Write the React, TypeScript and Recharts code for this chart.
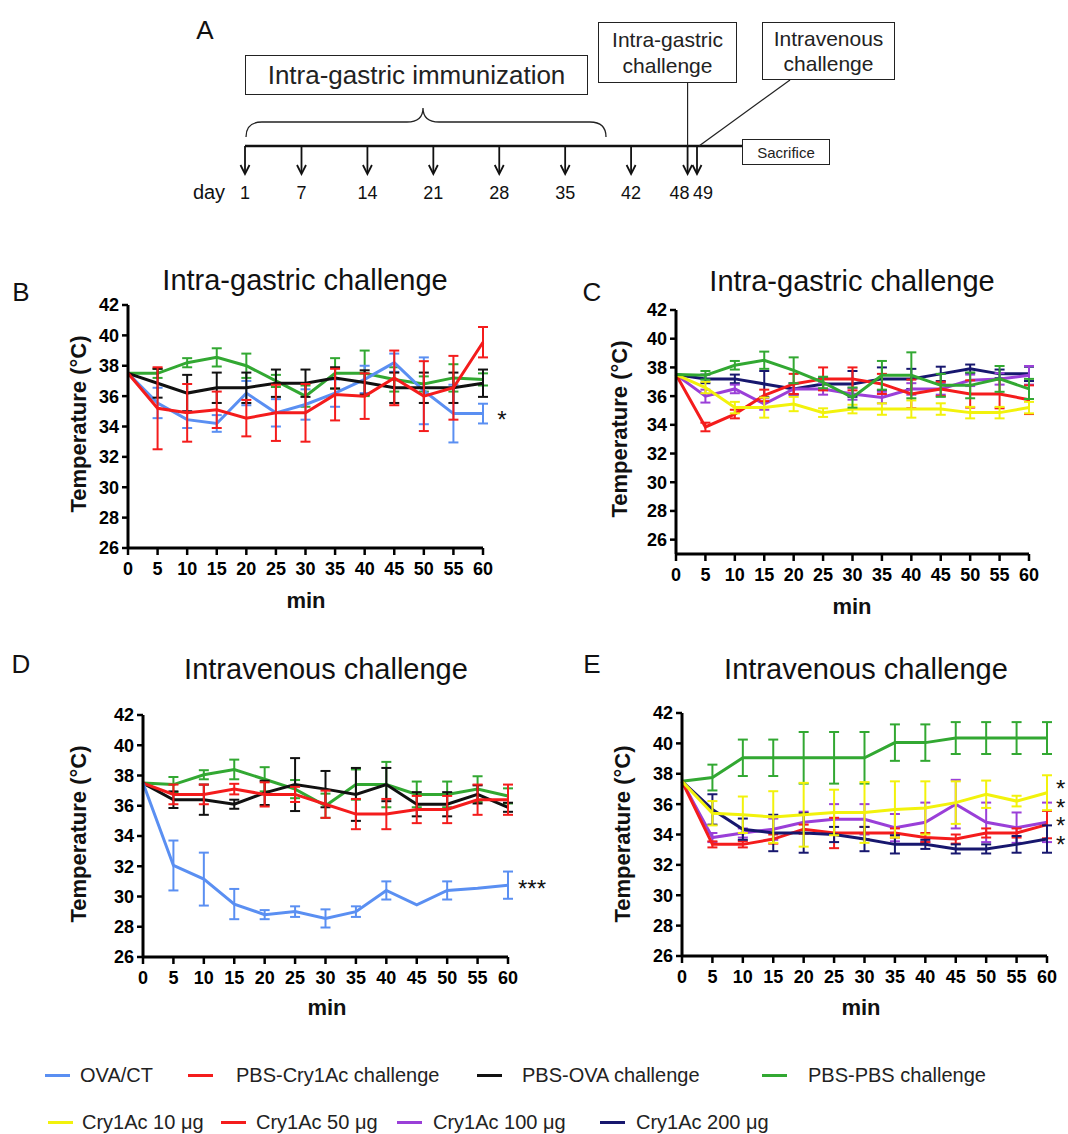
import React from 'react';
import { LineChart, Line, XAxis, YAxis, ErrorBar, ComposedChart, Scatter } from 'recharts';

const FONT = '"Liberation Sans", Arial, Helvetica, sans-serif';

// time points (min) and temperature ticks
const minutes = [0, 5, 10, 15, 20, 25, 30, 35, 40, 45, 50, 55, 60];
const tempTicks = [26, 28, 30, 32, 34, 36, 38, 40, 42];

// schedule days for panel A
const days = [1, 7, 14, 21, 28, 35, 42, 48, 49];

// Panel B: intra-gastric challenge, OVA / PBS groups
const bOva = [37.5, 35.55, 34.45, 34.2, 36.2, 34.9, 35.45, 36.2, 37.1, 38.2, 36.35, 34.85, 34.85];
const bOvaErr = [null, 1.0, 0.55, 0.55, 0.8, 0.9, 1.0, 0.9, 0.9, 0.6, 2.2, 1.9, 0.65];
const bCry = [37.5, 35.2, 34.9, 35.1, 34.55, 34.9, 34.9, 36.1, 36.0, 37.2, 36.0, 36.55, 39.55];
const bCryErr = [null, 2.7, 1.9, 1.2, 1.2, 1.85, 1.9, 1.7, 1.5, 1.8, 2.3, 2.1, 1.0];
const bPbsOva = [37.5, 36.85, 36.2, 36.55, 36.55, 36.85, 36.85, 37.2, 36.9, 36.55, 36.55, 36.55, 36.85];
const bPbsOvaErr = [null, 0.95, 1.2, 1.0, 1.0, 0.9, 0.9, 0.7, 0.8, 1.0, 1.0, 1.0, 0.9];
const bPbs = [37.5, 37.5, 38.2, 38.55, 38.0, 37.0, 36.0, 37.5, 37.5, 37.1, 36.8, 37.2, 37.1];
const bPbsErr = [null, 0.3, 0.3, 0.6, 0.8, 0.4, 0.7, 1.0, 1.5, 0.8, 0.5, 0.9, 0.4];

// Panel C: intra-gastric challenge, Cry1Ac doses
const c200 = [37.5, 37.2, 37.2, 36.85, 36.5, 36.85, 36.85, 37.2, 37.2, 37.55, 37.9, 37.55, 37.55];
const c200Err = [null, 0.3, 0.3, 0.9, 0.4, 0.4, 0.9, 0.8, 0.7, 0.5, 0.3, 0.3, 0.5];
const c100 = [37.5, 36.0, 36.5, 35.45, 36.5, 36.5, 36.15, 35.9, 36.5, 36.5, 37.1, 37.2, 37.45];
const c100Err = [null, 0.45, 0.3, 0.4, 0.4, 0.4, 0.4, 0.4, 0.4, 0.4, 0.4, 0.4, 0.65];
const c50 = [37.5, 33.85, 34.75, 36.05, 36.85, 37.2, 37.2, 36.85, 36.15, 36.5, 36.15, 36.15, 35.75];
const c50Err = [null, 0.3, 0.3, 0.4, 0.7, 0.8, 0.8, 0.7, 1.0, 0.5, 0.95, 1.0, 1.0];
const c10 = [37.5, 36.6, 35.2, 35.2, 35.45, 34.85, 35.1, 35.1, 35.1, 35.1, 34.85, 34.85, 35.2];
const c10Err = [null, 0.4, 0.4, 0.7, 0.5, 0.3, 0.3, 0.4, 0.6, 0.4, 0.4, 0.4, 0.4];
const cPbs = [37.5, 37.45, 38.15, 38.5, 37.8, 36.95, 35.9, 37.45, 37.45, 36.75, 36.75, 37.2, 36.5];
const cPbsErr = [null, 0.3, 0.3, 0.6, 0.9, 0.4, 0.7, 1.0, 1.6, 0.8, 0.9, 0.9, 0.7];

// Panel D: intravenous challenge, OVA / PBS groups
const dPbs = [37.5, 37.4, 38.05, 38.4, 37.75, 37.1, 36.0, 37.4, 37.4, 36.75, 36.75, 37.1, 36.65];
const dPbsErr = [null, 0.5, 0.3, 0.65, 0.8, 0.6, 0.8, 1.0, 1.5, 0.85, 0.85, 0.85, 0.5];
const dPbsOva = [37.5, 36.4, 36.4, 36.1, 36.85, 37.4, 37.1, 36.75, 37.4, 36.1, 36.1, 36.75, 35.9];
const dPbsOvaErr = [null, 0.55, 1.0, 0.3, 0.8, 1.75, 1.2, 1.75, 1.1, 0.8, 0.8, 0.6, 0.3];
const dCry = [37.5, 36.75, 36.75, 37.1, 36.75, 36.75, 36.1, 35.45, 35.45, 35.75, 35.75, 36.4, 36.4];
const dCryErr = [null, 0.65, 0.65, 0.35, 0.8, 0.5, 0.9, 1.0, 1.0, 0.9, 0.9, 1.0, 1.0];
const dOva = [37.5, 32.05, 31.15, 29.5, 28.8, 29.0, 28.55, 29.0, 30.4, 29.45, 30.4, 30.55, 30.75];
const dOvaErr = [null, 1.65, 1.75, 1.0, 0.3, 0.35, 0.6, 0.35, 0.6, null, 0.6, null, 0.9];

// Panel E: intravenous challenge, Cry1Ac doses
const ePbs = [37.5, 37.75, 39.05, 39.05, 39.05, 39.05, 39.05, 40.05, 40.05, 40.35, 40.35, 40.35, 40.35];
const ePbsErr = [null, 0.85, 1.2, 1.2, 1.7, 1.7, 1.7, 1.2, 1.2, 1.05, 1.05, 1.05, 1.05];
const e100 = [37.5, 33.8, 34.1, 34.35, 34.8, 35.0, 35.0, 34.45, 34.8, 36.0, 34.8, 34.45, 34.8];
const e100Err = [null, 0.3, 0.3, 0.7, 0.7, 1.0, 1.0, 0.9, 1.3, 1.6, 1.3, 1.0, 1.3];
const e50 = [37.5, 33.35, 33.35, 33.7, 34.35, 34.1, 34.1, 34.1, 33.8, 33.7, 34.1, 34.1, 34.65];
const e50Err = [null, 0.2, 0.2, 0.3, 0.3, 1.0, 0.4, 0.3, 0.3, 0.3, 0.3, 0.3, 0.9];
const e200 = [37.5, 35.65, 34.35, 34.1, 34.1, 34.0, 33.7, 33.35, 33.35, 33.05, 33.05, 33.35, 33.7];
const e200Err = [null, 1.0, 0.7, 1.2, 1.3, 0.5, 0.8, 0.6, 0.3, 0.3, 0.3, 0.55, 0.9];
const e10 = [37.5, 35.4, 35.3, 35.15, 35.3, 35.45, 35.45, 35.65, 35.75, 36.1, 36.65, 36.2, 36.75];
const e10Err = [null, 0.8, 1.2, 1.7, 2.1, 1.5, 2.0, 1.85, 1.75, 1.4, 0.9, 0.35, 1.15];

const BLUE = '#5a8ff2';
const RED = '#f41c1c';
const BLACK = '#111111';
const GREEN = '#32a832';
const YELLOW = '#f2f20c';
const PURPLE = '#9a3fd8';
const NAVY = '#17176e';

type Series = { name: string; values: number[]; errors: (number | null)[]; color: string };

const seriesB: Series[] = [
  { name: 'pbs', values: bPbs, errors: bPbsErr, color: GREEN },
  { name: 'ova', values: bOva, errors: bOvaErr, color: BLUE },
  { name: 'pbsOva', values: bPbsOva, errors: bPbsOvaErr, color: BLACK },
  { name: 'cry', values: bCry, errors: bCryErr, color: RED },
];
const seriesC: Series[] = [
  { name: 'd200', values: c200, errors: c200Err, color: NAVY },
  { name: 'd100', values: c100, errors: c100Err, color: PURPLE },
  { name: 'd50', values: c50, errors: c50Err, color: RED },
  { name: 'd10', values: c10, errors: c10Err, color: YELLOW },
  { name: 'pbs', values: cPbs, errors: cPbsErr, color: GREEN },
];
const seriesD: Series[] = [
  { name: 'pbs', values: dPbs, errors: dPbsErr, color: GREEN },
  { name: 'pbsOva', values: dPbsOva, errors: dPbsOvaErr, color: BLACK },
  { name: 'cry', values: dCry, errors: dCryErr, color: RED },
  { name: 'ova', values: dOva, errors: dOvaErr, color: BLUE },
];
const seriesE: Series[] = [
  { name: 'pbs', values: ePbs, errors: ePbsErr, color: GREEN },
  { name: 'd100', values: e100, errors: e100Err, color: PURPLE },
  { name: 'd50', values: e50, errors: e50Err, color: RED },
  { name: 'd200', values: e200, errors: e200Err, color: NAVY },
  { name: 'd10', values: e10, errors: e10Err, color: YELLOW },
];

function buildRows(series: Series[]) {
  return minutes.map((m, i) => {
    const row: Record<string, number | null> = { min: m };
    series.forEach((s) => {
      row[s.name] = s.values[i];
      row[s.name + 'Err'] = s.errors[i];
    });
    return row;
  });
}

const YW = 44;
const MT = 10;
const MR = 14;
const XH = 34;
const tickStyle = { fill: '#000', fontSize: 18, fontWeight: 700, fontFamily: FONT };

function Panel({ series, left, top, w, h, domain }: { series: Series[]; left: number; top: number; w: number; h: number; domain: number[] }) {
  const rows = buildRows(series);
  return (
    <div style={{ position: 'absolute', left: left - YW, top: top - MT }}>
      <LineChart width={YW + w + MR} height={MT + h + XH} data={rows} margin={{ top: MT, right: MR, left: 0, bottom: 0 }}>
        <XAxis
          dataKey="min"
          type="number"
          domain={[0, 60]}
          ticks={minutes}
          interval={0}
          height={XH}
          axisLine={{ stroke: '#000', strokeWidth: 3 }}
          tickLine={{ stroke: '#000', strokeWidth: 2.5 }}
          tickSize={7}
          tickMargin={7}
          tick={tickStyle}
        />
        <YAxis
          type="number"
          domain={domain}
          ticks={tempTicks}
          interval={0}
          allowDataOverflow
          width={YW}
          axisLine={{ stroke: '#000', strokeWidth: 3 }}
          tickLine={{ stroke: '#000', strokeWidth: 2.5 }}
          tickSize={6}
          tickMargin={3}
          tick={tickStyle}
        />
        {series.map((s) => (
          <Line key={s.name} type="linear" dataKey={s.name} stroke={s.color} strokeWidth={3} dot={false} isAnimationActive={false}>
            <ErrorBar dataKey={s.name + 'Err'} direction="y" width={5} strokeWidth={2} stroke={s.color} />
          </Line>
        ))}
      </LineChart>
    </div>
  );
}

function Txt({ x, y, size, bold, rotate, children }: { x: number; y: number; size: number; bold?: boolean; rotate?: number; children: React.ReactNode }) {
  return (
    <div
      style={{
        position: 'absolute',
        left: x,
        top: y,
        transform: `translate(-50%, -50%)${rotate ? ` rotate(${rotate}deg)` : ''}`,
        fontSize: size,
        fontWeight: bold ? 700 : 400,
        fontFamily: FONT,
        lineHeight: 1,
        whiteSpace: 'nowrap',
        color: '#111',
      }}
    >
      {children}
    </div>
  );
}

function LegendItem({ x, tx, y, color, label }: { x: number; tx: number; y: number; color: string; label: string }) {
  return (
    <>
      <div style={{ position: 'absolute', left: x, top: y - 1.5, width: 25, height: 3, background: color }} />
      <div style={{ position: 'absolute', left: tx, top: y, transform: 'translateY(-50%)', fontSize: 20, fontFamily: FONT, lineHeight: 1, whiteSpace: 'nowrap', color: '#222' }}>
        {label}
      </div>
    </>
  );
}

// timeline layout for panel A
const TL_LEFT = 245;
const TL_RIGHT = 697;
const TL_Y = 146;
const dayX = (d: number) => TL_LEFT + ((d - days[0]) / (days[days.length - 1] - days[0])) * (TL_RIGHT - TL_LEFT);

function Arrow(props: any) {
  const { cx, cy } = props;
  return (
    <g stroke="#111" strokeWidth={1.8} fill="none">
      <line x1={cx} y1={cy} x2={cx} y2={cy + 27} />
      <polyline points={`${cx - 4.5},${cy + 19} ${cx},${cy + 28} ${cx + 4.5},${cy + 19}`} />
    </g>
  );
}

function DayTick(props: any) {
  const { x, y, payload } = props;
  const v = payload.value;
  const nudge = v === 48 ? -8 : v === 49 ? 6 : 0;
  return (
    <text x={x + nudge} y={y} dy={15} textAnchor="middle" fontSize={18} fontFamily={FONT} fill="#111">
      {v}
    </text>
  );
}

function Timeline() {
  const rows = days.map((d) => ({ day: d, y: 1 }));
  return (
    <>
      <svg style={{ position: 'absolute', left: 0, top: 0 }} width={1068} height={220}>
        <path d="M246,137 Q246,122 262,122 L407,122 Q423,122 423,108 Q423,122 439,122 L590,122 Q606,122 606,137" stroke="#222" strokeWidth={1.3} fill="none" />
        <line x1={TL_LEFT} y1={TL_Y} x2={742} y2={TL_Y} stroke="#111" strokeWidth={2.5} />
        <line x1={dayX(48)} y1={83} x2={dayX(48)} y2={TL_Y} stroke="#222" strokeWidth={1.2} />
        <line x1={790} y1={80} x2={dayX(49) + 2} y2={TL_Y} stroke="#222" strokeWidth={1.2} />
      </svg>
      <div style={{ position: 'absolute', left: TL_LEFT - 20, top: TL_Y }}>
        <ComposedChart width={TL_RIGHT - TL_LEFT + 40} height={62} data={rows} margin={{ top: 0, right: 20, left: 20, bottom: 0 }}>
          <XAxis dataKey="day" type="number" domain={[1, 49]} ticks={days} interval={0} axisLine={false} tickLine={false} tickMargin={4} height={34} tick={<DayTick />} />
          <YAxis hide type="number" domain={[0, 1]} />
          <Scatter dataKey="y" shape={<Arrow />} isAnimationActive={false} />
        </ComposedChart>
      </div>
      <div style={boxStyle(245, 55, 343, 40)}>
        <span style={{ fontSize: 26 }}>Intra-gastric immunization</span>
      </div>
      <div style={boxStyle(598, 22, 139, 61)}>
        <span style={{ fontSize: 21, lineHeight: 1.2 }}>Intra-gastric<br />challenge</span>
      </div>
      <div style={boxStyle(762, 22, 133, 58)}>
        <span style={{ fontSize: 21, lineHeight: 1.2 }}>Intravenous<br />challenge</span>
      </div>
      <div style={boxStyle(742, 139, 88, 26)}>
        <span style={{ fontSize: 15 }}>Sacrifice</span>
      </div>
      <Txt x={209} y={192} size={20}>day</Txt>
    </>
  );
}

function boxStyle(left: number, top: number, width: number, height: number): React.CSSProperties {
  return {
    position: 'absolute',
    left,
    top,
    width,
    height,
    boxSizing: 'border-box',
    border: '1.3px solid #222',
    background: '#fff',
    display: 'flex',
    alignItems: 'center',
    justifyContent: 'center',
    textAlign: 'center',
    fontFamily: FONT,
    color: '#222',
    lineHeight: 1,
  };
}

export default function App() {
  return (
    <div style={{ position: 'absolute', left: 0, top: 0, width: 1068, height: 1134, background: '#fff', overflow: 'hidden' }}>
      <Timeline />
      <Txt x={205} y={30} size={26}>A</Txt>
      <Txt x={21} y={292} size={26}>B</Txt>
      <Txt x={592} y={292} size={26}>C</Txt>
      <Txt x={21} y={664} size={26}>D</Txt>
      <Txt x={592} y={664} size={26}>E</Txt>

      <Txt x={305} y={280} size={29}>Intra-gastric challenge</Txt>
      <Txt x={852} y={281} size={29}>Intra-gastric challenge</Txt>
      <Txt x={326} y={669} size={29}>Intravenous challenge</Txt>
      <Txt x={866} y={669} size={29}>Intravenous challenge</Txt>

      <Txt x={79} y={424} size={22} bold rotate={-90}>Temperature (°C)</Txt>
      <Txt x={620} y={429} size={22} bold rotate={-90}>Temperature (°C)</Txt>
      <Txt x={79} y={834} size={22} bold rotate={-90}>Temperature (°C)</Txt>
      <Txt x={623} y={834} size={22} bold rotate={-90}>Temperature (°C)</Txt>

      <Txt x={306} y={601} size={22} bold>min</Txt>
      <Txt x={852} y={607} size={22} bold>min</Txt>
      <Txt x={327} y={1008} size={22} bold>min</Txt>
      <Txt x={861} y={1008} size={22} bold>min</Txt>

      <Panel series={seriesB} left={128} top={305} w={355} h={243} domain={[26, 42]} />
      <Panel series={seriesC} left={676} top={310} w={353} h={244} domain={[25, 42]} />
      <Panel series={seriesD} left={143} top={715} w={365} h={242} domain={[26, 42]} />
      <Panel series={seriesE} left={682} top={713} w={365} h={243} domain={[26, 42]} />

      <Txt x={502} y={420} size={24}>*</Txt>
      <Txt x={532} y={889} size={24}>***</Txt>
      <div
        style={{
          position: 'absolute',
          left: 1056,
          top: 780,
          fontSize: 24,
          lineHeight: '18.5px',
          fontFamily: FONT,
          color: '#111',
          whiteSpace: 'pre',
        }}
      >
        {'*\n*\n*\n*'}
      </div>

      <LegendItem x={45} tx={80} y={1075} color={BLUE} label="OVA/CT" />
      <LegendItem x={188} tx={236} y={1075} color={RED} label="PBS-Cry1Ac challenge" />
      <LegendItem x={477} tx={522} y={1075} color={BLACK} label="PBS-OVA challenge" />
      <LegendItem x={762} tx={808} y={1075} color={GREEN} label="PBS-PBS challenge" />
      <LegendItem x={48} tx={82} y={1122} color={YELLOW} label="Cry1Ac 10 μg" />
      <LegendItem x={221} tx={256} y={1122} color={RED} label="Cry1Ac 50 μg" />
      <LegendItem x={397} tx={433} y={1122} color={PURPLE} label="Cry1Ac 100 μg" />
      <LegendItem x={600} tx={636} y={1122} color={NAVY} label="Cry1Ac 200 μg" />
    </div>
  );
}
